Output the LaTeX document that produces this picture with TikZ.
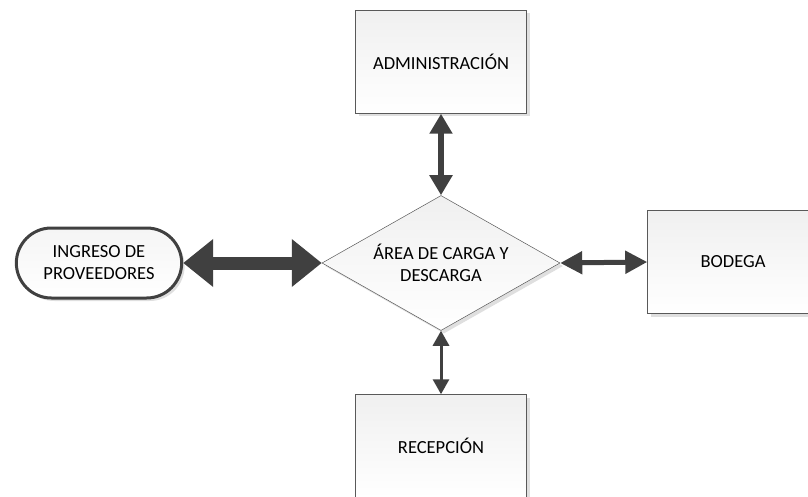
\documentclass[tikz,border=0pt]{standalone}
\usepackage{fontspec}
\setmainfont{Carlito}
\usetikzlibrary{shapes.geometric,shapes.misc,shadows,arrows.meta}

\begin{document}
\begin{tikzpicture}[x=1pt,y=-1pt,
	font=\fontsize{18.5}{22}\selectfont,
	area/.style={draw=gray!70!black,line width=0.5pt,top color=gray!12,bottom color=white,
		drop shadow={shadow xshift=3pt,shadow yshift=-3pt,opacity=0.25}},
	caja/.style={area,minimum width=171pt,minimum height=103pt,align=center},
	flecha/.style={draw=black!75,fill=black!75}]
	\useasboundingbox (0,0) rectangle (808,497);
	\node[caja] (admin) at (441,62) {ADMINISTRACIÓN};
	\node[caja] (bodega) at (733,262) {BODEGA};
	\node[caja] (recep) at (441,446) {RECEPCIÓN};
	\node[area,diamond,inner sep=0pt,minimum width=238pt,minimum height=135pt,
		label={[align=center]center:ÁREA DE CARGA Y\\DESCARGA}]
		(carga) at (441,263) {};
	\node[rounded rectangle,draw=black!75,line width=3pt,top color=gray!8,bottom color=white,
		minimum width=172pt,minimum height=70pt,align=center,
		drop shadow={shadow xshift=3pt,shadow yshift=-3pt,opacity=0.25}]
		(ingreso) at (99,263) {INGRESO DE\\PROVEEDORES};
	% conectores
	\draw[flecha,line width=13pt,{Triangle[length=30pt,width=46pt]}-{Triangle[length=30pt,width=46pt]}]
		(ingreso.east) -- (carga.west);
	\draw[flecha,line width=6pt,{Triangle[length=20pt,width=22pt]}-{Triangle[length=20pt,width=22pt]}]
		(admin.south) -- (carga.north);
	\draw[flecha,line width=5pt,{Triangle[length=22pt,width=22pt]}-{Triangle[length=22pt,width=22pt]}]
		(carga.east) -- (bodega.west);
	\draw[flecha,line width=3pt,{Triangle[length=15pt,width=16pt]}-{Triangle[length=15pt,width=16pt]}]
		(carga.south) -- (recep.north);
\end{tikzpicture}
\end{document}
